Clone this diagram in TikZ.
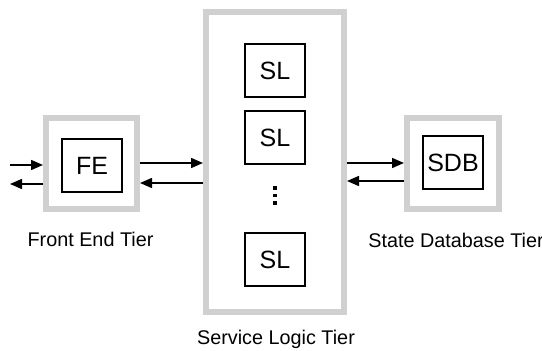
\documentclass[tikz,border=0pt]{standalone}
\usepackage{fontspec}
\setmainfont{Liberation Sans}
\usetikzlibrary{arrows.meta}
\definecolor{tiergray}{RGB}{208,208,208}

\begin{document}
\begin{tikzpicture}[x=0.5pt, y=-0.5pt,
	tier/.style={draw=tiergray, line width=3pt, inner sep=0pt},
	unit/.style={draw, line width=1pt, inner sep=0pt, minimum width=30pt, minimum height=26.5pt, font=\fontsize{12.5}{14}\selectfont},
	tiername/.style={anchor=base, font=\fontsize{9.9}{12}\selectfont},
	vdot/.style={fill, inner sep=0pt, minimum size=1.8pt},
	link/.style={line width=0.75pt, -{Triangle[length=6pt, width=5pt]}}]
	\useasboundingbox (0, 0) rectangle (542, 351);

	% the three tiers
	\node[tier, minimum width=45.5pt, minimum height=45.5pt] (fetier) at (91.5, 163.5) {};
	\node[tier, minimum width=69pt, minimum height=150pt] (sltier) at (275, 162) {};
	\node[tier, minimum width=46pt, minimum height=45.5pt] (sdbtier) at (453, 163.5) {};

	% boxes inside them
	\node[unit] (fe) at (92, 166) {FE};
	\node[unit] (sla) at (275, 70.5) {SL};
	\node[unit] (slb) at (275, 137.5) {SL};
	\node[unit] (sln) at (275, 259.5) {SL};
	\node[unit] (sdb) at (453, 163) {SDB};
	\foreach \y [count=\i] in {188, 195.5, 203}
		\node[vdot] (dot\i) at (275, \y) {};

	% requests in and replies out
	\coordinate (in) at (10, 165);
	\coordinate (out) at (10, 184);
	\draw[link] (in) -- (in -| fetier.west);
	\draw[link] (out -| fetier.west) -- (out);

	\draw[link] (fetier.east |- 0, 163) -- (sltier.west |- 0, 163);
	\draw[link] (sltier.west |- 0, 183) -- (fetier.east |- 0, 183);
	\draw[link] (sltier.east |- 0, 163) -- (sdbtier.west |- 0, 163);
	\draw[link] (sdbtier.west |- 0, 181) -- (sltier.east |- 0, 181);

	\node[tiername] (fename) at (90.5, 247) {Front End Tier};
	\node[tiername] (slname) at (276, 345) {Service Logic Tier};
	\node[tiername] (sdbname) at (456, 247.5) {State Database Tier};
\end{tikzpicture}
\end{document}
